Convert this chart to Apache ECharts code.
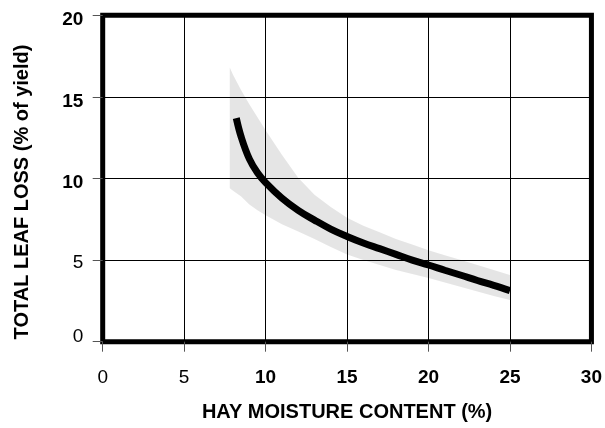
<!DOCTYPE html>
<html><head><meta charset="utf-8">
<script src="https://cdn.jsdelivr.net/npm/echarts@6/dist/echarts.min.js"></script>
<style>html,body{margin:0;padding:0;background:#fff}#c{width:605px;height:428px}</style>
</head><body><div id="c"></div>
<script>
// Fitted curve: hay moisture content (%) vs total leaf loss (% of yield)
const lineX = [8.2, 8.5, 9, 9.5, 10, 11, 12, 13, 14, 15, 16, 17, 18, 19, 20, 21, 22, 23, 24, 25];
const lineY = [13.7, 12.55, 11.2, 10.35, 9.75, 8.8, 8.05, 7.45, 6.9, 6.45, 6.05, 5.7, 5.35, 5.0, 4.7, 4.38, 4.07, 3.75, 3.45, 3.13];
// Confidence band
const bandX     = [7.8, 8, 8.5, 9, 9.5, 10, 11, 12, 13, 14, 15, 16, 17, 18, 19, 20, 21, 22, 23, 24, 25];
const bandUpper = [16.8, 16.35, 15.4, 14.55, 13.75, 12.95, 11.45, 10.05, 9.0, 8.25, 7.6, 7.1, 6.7, 6.3, 5.95, 5.6, 5.3, 5.0, 4.7, 4.4, 4.08];
const bandLower = [9.4, 9.25, 8.9, 8.4, 8.05, 7.75, 7.2, 6.75, 6.3, 5.8, 5.35, 5.0, 4.7, 4.4, 4.15, 3.9, 3.62, 3.35, 3.08, 2.8, 2.55];
// Axis text
const xName = 'HAY MOISTURE CONTENT (%)';
const yName = 'TOTAL LEAF LOSS (% of yield)';
const boldTickLabels = [10, 15, 20, 25, 30];

const FONT = "'Liberation Sans', Arial, Helvetica, sans-serif";
const LS = 19;
const chart = echarts.init(document.getElementById('c'), null, {renderer: 'canvas'});

const yRich = {
  b4: {fontFamily: FONT, fontSize: LS, fontWeight: 'bold', color: '#000', padding: [8, 0, 0, 0]},
  b5: {fontFamily: FONT, fontSize: LS, fontWeight: 'bold', color: '#000', padding: [10, 0, 0, 0]},
  n3: {fontFamily: FONT, fontSize: LS, fontWeight: 'normal', color: '#000', padding: [6, 0, 0, 0]},
  n0: {fontFamily: FONT, fontSize: LS, fontWeight: 'normal', color: '#000', padding: [0, 0, 10, 0]}
};
const yStyleFor = {20: 'b4', 15: 'b5', 10: 'b4', 5: 'n3', 0: 'n0'};

chart.setOption({
  animation: false,
  backgroundColor: '#fff',
  grid: {left: 102.7, right: 13, top: 15.3, bottom: 86.3, show: true, borderColor: '#000', borderWidth: 5, backgroundColor: 'transparent'},
  xAxis: {
    type: 'value', min: 0, max: 30, interval: 5,
    axisLine: {show: false},
    axisTick: {show: true, inside: false, length: 10, lineStyle: {color: '#555', width: 1}},
    splitLine: {show: true, lineStyle: {color: '#000', width: 1}},
    axisLabel: {
      margin: 27, verticalAlign: 'top',
      formatter: v => (boldTickLabels.indexOf(v) >= 0 ? '{b|' : '{n|') + v + '}',
      rich: {
        b: {fontFamily: FONT, fontSize: LS, fontWeight: 'bold', color: '#000'},
        n: {fontFamily: FONT, fontSize: LS, fontWeight: 'normal', color: '#000'}
      }
    },
    name: xName, nameLocation: 'middle', nameGap: 61,
    nameTextStyle: {fontFamily: FONT, fontSize: 20, fontWeight: 'bold', color: '#000'}
  },
  yAxis: {
    type: 'value', min: 0, max: 20, interval: 5,
    axisLine: {show: false},
    axisTick: {show: true, inside: false, length: 10, lineStyle: {color: '#555', width: 1}},
    splitLine: {show: true, lineStyle: {color: '#000', width: 1}},
    axisLabel: {
      margin: 19.4,
      formatter: v => '{' + (yStyleFor[v] || 'n3') + '|' + v + '}',
      rich: yRich
    }
  },
  graphic: [{
    type: 'text', x: 22.5, y: 192, rotation: Math.PI / 2, silent: true,
    style: {text: yName, fontFamily: FONT, fontSize: 20, fontWeight: 'bold', fill: '#000', align: 'center', verticalAlign: 'middle'}
  }],
  series: [
    {
      type: 'custom', silent: true, z: 1,
      data: [[bandX[0], bandLower[0]]],
      renderItem: (params, api) => {
        const pts = [];
        for (let i = 0; i < bandX.length; i++) pts.push(api.coord([bandX[i], bandUpper[i]]));
        for (let i = bandX.length - 1; i >= 0; i--) pts.push(api.coord([bandX[i], bandLower[i]]));
        return {type: 'polygon', shape: {points: pts}, style: {fill: 'rgba(0,0,0,0.1)'}};
      }
    },
    {
      type: 'line', z: 3, silent: true,
      data: lineX.map((x, i) => [x, lineY[i]]),
      showSymbol: false, smooth: 0.4,
      lineStyle: {color: '#000', width: 7, cap: 'butt'}
    }
  ]
});
</script></body></html>
